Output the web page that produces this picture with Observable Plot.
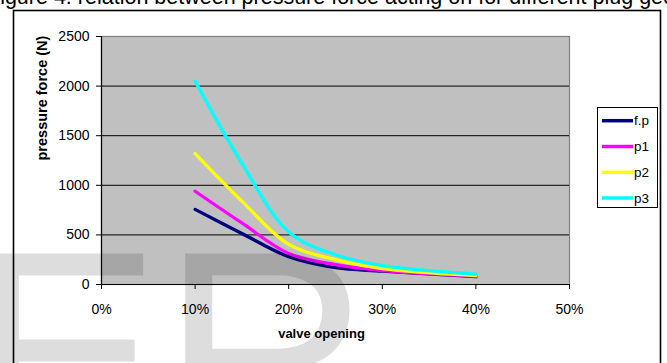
<!DOCTYPE html>
<html>
<head>
<meta charset="utf-8">
<script src="https://cdn.jsdelivr.net/npm/d3@7"></script>
<script src="https://cdn.jsdelivr.net/npm/@observablehq/plot@0.6"></script>
<style>
  html, body { margin: 0; padding: 0; background: #fff; }
  #wrap { position: relative; width: 667px; height: 363px; overflow: hidden; font-family: "Liberation Sans", Arial, sans-serif; }
  #wrap > svg { position: absolute; left: 0; top: 0; }
</style>
</head>
<body>
<div id="wrap"></div>
<script>
// ---- data ----
const opening = [0.10, 0.15, 0.20, 0.25, 0.30, 0.40];
const fp = [757, 515, 280, 170, 135, 80];
const p1 = [940, 620, 313, 200, 140, 85];
const p2 = [1320, 840, 405, 250, 160, 90];
const p3 = [2050, 1220, 530, 300, 190, 105];
const seriesNames = ["f.p", "p1", "p2", "p3"];
const seriesColors = ["#000080", "#ff00ff", "#ffff00", "#00ffff"];
const xTicks = [0, 0.1, 0.2, 0.3, 0.4, 0.5];
const yTicks = [0, 500, 1000, 1500, 2000, 2500];
const titleText = "Figure 4: relation between pressure force acting on for different plug geometry";
const xTitle = "valve opening";
const yTitle = "pressure force (N)";

const seriesValues = [fp, p1, p2, p3];
const rows = seriesNames.flatMap((name, i) =>
  opening.map((x, j) => ({series: name, x, y: seriesValues[i][j]})));

const W = 667, H = 363;
const font = "Liberation Sans, Arial, sans-serif";

const chart = Plot.plot({
  width: W, height: H,
  marginLeft: 101, marginRight: 98, marginTop: 36, marginBottom: 79,
  style: {fontFamily: font, background: "transparent", overflow: "visible"},
  x: {domain: [0, 0.5]},
  y: {domain: [0, 2500]},
  color: {domain: seriesNames, range: seriesColors},
  marks: [
    Plot.frame({fill: "#c0c0c0", stroke: "#808080", strokeWidth: 1.2}),
    Plot.gridY(yTicks.filter(d => d > 0 && d < 2500), {stroke: "#000", strokeOpacity: 1, strokeWidth: 1}),
    Plot.axisY(yTicks, {tickSize: 5, tickPadding: 7, fontSize: 14, stroke: "#000", fill: "#000",
      tickFormat: d => String(d), label: null}),
    Plot.axisX(xTicks, {tickSize: 5, tickPadding: 15, fontSize: 14, stroke: "#000", fill: "#000",
      tickFormat: d3.format(".0%"), label: null}),
    Plot.ruleX([0], {stroke: "#000", strokeWidth: 1.2}),
    Plot.ruleY([0], {stroke: "#000", strokeWidth: 1.2}),
    Plot.line(rows, {x: "x", y: "y", stroke: "series", z: "series", strokeWidth: 3.3,
      curve: "catmull-rom", strokeLinejoin: "round"}),
    Plot.text([xTitle], {frameAnchor: "bottom", dy: 53, dx: -14, fontWeight: "bold", fontSize: 13, fill: "#000"}),
    Plot.text([yTitle], {frameAnchor: "left", dx: -59, rotate: -90, fontWeight: "bold", fontSize: 14.5, fill: "#000"})
  ]
});

const wrap = document.getElementById("wrap");
wrap.appendChild(chart);

// ---- overlay: page title (clipped), outer border, legend, watermark ----
const ov = d3.create("svg").attr("width", W).attr("height", H)
  .attr("style", "position:absolute;left:0;top:0;pointer-events:none;font-family:" + font);

ov.append("text").attr("x", -13).attr("y", 4).attr("font-size", 21.5).attr("fill", "#000").text(titleText);

ov.append("rect").attr("x", 13.5).attr("y", 10.5).attr("width", 647).attr("height", 400)
  .attr("fill", "none").attr("stroke", "#000").attr("stroke-width", 1.6);

const lg = ov.append("g");
lg.append("rect").attr("x", 597.5).attr("y", 107.5).attr("width", 60).attr("height", 100)
  .attr("fill", "#fff").attr("stroke", "#000").attr("stroke-width", 1);
const rowY = [120.7, 146.5, 172.3, 198];
seriesNames.forEach((name, i) => {
  lg.append("line").attr("x1", 602).attr("x2", 633).attr("y1", rowY[i]).attr("y2", rowY[i])
    .attr("stroke", seriesColors[i]).attr("stroke-width", 3.5);
  lg.append("text").attr("x", 634).attr("y", rowY[i]).attr("dy", "0.35em").attr("font-size", 13.5)
    .attr("fill", "#000").text(name);
});

ov.append("text").attr("x", -32).attr("y", 453).attr("font-size", 290).attr("fill", "#000")
  .attr("fill-opacity", 0.135).text("ER");

wrap.appendChild(ov.node());
</script>
</body>
</html>
